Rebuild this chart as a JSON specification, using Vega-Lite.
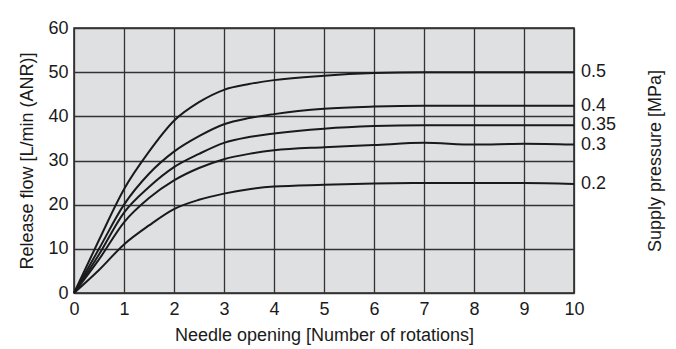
{
  "$schema": "https://vega.github.io/schema/vega-lite/v6.json",
  "width": 500,
  "height": 265,
  "autosize": "none",
  "padding": {"left": 74, "top": 28, "right": 102, "bottom": 56},
  "background": "white",
  "config": {
    "font": "Liberation Sans",
    "view": {"fill": "#dfe0e2", "stroke": "#222222", "strokeWidth": 1.5},
    "axis": {
      "labelFont": "Liberation Sans",
      "titleFont": "Liberation Sans",
      "labelFontSize": 18,
      "titleFontSize": 18,
      "labelColor": "#1a1a1a",
      "titleColor": "#1a1a1a",
      "titleFontWeight": "normal",
      "labelFlush": false,
      "labelOverlap": false,
      "ticks": false,
      "domain": false,
      "gridColor": "#333333",
      "gridWidth": 1.3,
      "gridOpacity": 1
    }
  },
  "data": {
    "values": [
      {"x": 0, "y": 0, "p": "0.5"}, {"x": 0.5, "y": 12, "p": "0.5"}, {"x": 1, "y": 23.5, "p": "0.5"}, {"x": 1.5, "y": 32, "p": "0.5"}, {"x": 2, "y": 39, "p": "0.5"}, {"x": 2.5, "y": 43.2, "p": "0.5"}, {"x": 3, "y": 46, "p": "0.5"}, {"x": 3.5, "y": 47.3, "p": "0.5"}, {"x": 4, "y": 48.2, "p": "0.5"}, {"x": 5, "y": 49.2, "p": "0.5"}, {"x": 6, "y": 49.8, "p": "0.5"}, {"x": 7, "y": 50, "p": "0.5"}, {"x": 8, "y": 50, "p": "0.5"}, {"x": 9, "y": 50, "p": "0.5"}, {"x": 10, "y": 50, "p": "0.5"},
      {"x": 0, "y": 0, "p": "0.4"}, {"x": 0.5, "y": 10, "p": "0.4"}, {"x": 1, "y": 20, "p": "0.4"}, {"x": 1.5, "y": 27, "p": "0.4"}, {"x": 2, "y": 32, "p": "0.4"}, {"x": 2.5, "y": 35.5, "p": "0.4"}, {"x": 3, "y": 38.2, "p": "0.4"}, {"x": 3.5, "y": 39.6, "p": "0.4"}, {"x": 4, "y": 40.5, "p": "0.4"}, {"x": 5, "y": 41.7, "p": "0.4"}, {"x": 6, "y": 42.2, "p": "0.4"}, {"x": 7, "y": 42.4, "p": "0.4"}, {"x": 8, "y": 42.4, "p": "0.4"}, {"x": 9, "y": 42.4, "p": "0.4"}, {"x": 10, "y": 42.4, "p": "0.4"},
      {"x": 0, "y": 0, "p": "0.35"}, {"x": 0.5, "y": 8.7, "p": "0.35"}, {"x": 1, "y": 18.2, "p": "0.35"}, {"x": 1.5, "y": 24, "p": "0.35"}, {"x": 2, "y": 28.5, "p": "0.35"}, {"x": 2.5, "y": 31.5, "p": "0.35"}, {"x": 3, "y": 34, "p": "0.35"}, {"x": 3.5, "y": 35.3, "p": "0.35"}, {"x": 4, "y": 36.1, "p": "0.35"}, {"x": 5, "y": 37.2, "p": "0.35"}, {"x": 6, "y": 37.8, "p": "0.35"}, {"x": 7, "y": 38, "p": "0.35"}, {"x": 8, "y": 38, "p": "0.35"}, {"x": 9, "y": 38, "p": "0.35"}, {"x": 10, "y": 38, "p": "0.35"},
      {"x": 0, "y": 0, "p": "0.3"}, {"x": 0.5, "y": 7.6, "p": "0.3"}, {"x": 1, "y": 16, "p": "0.3"}, {"x": 1.5, "y": 21.5, "p": "0.3"}, {"x": 2, "y": 25.5, "p": "0.3"}, {"x": 2.5, "y": 28.3, "p": "0.3"}, {"x": 3, "y": 30.3, "p": "0.3"}, {"x": 3.5, "y": 31.5, "p": "0.3"}, {"x": 4, "y": 32.3, "p": "0.3"}, {"x": 5, "y": 33, "p": "0.3"}, {"x": 6, "y": 33.5, "p": "0.3"}, {"x": 7, "y": 34, "p": "0.3"}, {"x": 8, "y": 33.6, "p": "0.3"}, {"x": 9, "y": 33.8, "p": "0.3"}, {"x": 10, "y": 33.6, "p": "0.3"},
      {"x": 0, "y": 0, "p": "0.2"}, {"x": 0.5, "y": 5.2, "p": "0.2"}, {"x": 1, "y": 11, "p": "0.2"}, {"x": 1.5, "y": 15.3, "p": "0.2"}, {"x": 2, "y": 19, "p": "0.2"}, {"x": 2.5, "y": 21.1, "p": "0.2"}, {"x": 3, "y": 22.5, "p": "0.2"}, {"x": 3.5, "y": 23.5, "p": "0.2"}, {"x": 4, "y": 24.1, "p": "0.2"}, {"x": 5, "y": 24.5, "p": "0.2"}, {"x": 6, "y": 24.8, "p": "0.2"}, {"x": 7, "y": 24.9, "p": "0.2"}, {"x": 8, "y": 24.9, "p": "0.2"}, {"x": 9, "y": 24.9, "p": "0.2"}, {"x": 10, "y": 24.7, "p": "0.2"}
    ]
  },
  "layer": [
    {
      "mark": {"type": "line", "interpolate": "monotone", "color": "#1a1a1a", "strokeWidth": 2},
      "encoding": {
        "x": {"field": "x", "type": "quantitative", "scale": {"domain": [0, 10], "nice": false}, "axis": {"title": "Needle opening [Number of rotations]", "values": [0,1,2,3,4,5,6,7,8,9,10], "labelPadding": 7, "titlePadding": 8}},
        "y": {"field": "y", "type": "quantitative", "scale": {"domain": [0, 60], "nice": false}, "axis": {"title": "Release flow [L/min (ANR)]", "values": [0,10,20,30,40,50,60], "labelPadding": 6, "titlePadding": 11}},
        "detail": {"field": "p", "type": "nominal"}
      }
    },
    {
      "transform": [{"filter": "datum.x == 10"}],
      "mark": {"type": "text", "align": "left", "baseline": "middle", "dx": 7, "fontSize": 18, "color": "#1a1a1a", "font": "Liberation Sans"},
      "encoding": {
        "x": {"field": "x", "type": "quantitative"},
        "y": {"field": "y", "type": "quantitative", "axis": {"orient": "right", "title": "Supply pressure [MPa]", "labels": false, "grid": false, "titleAngle": 270, "titlePadding": 90}},
        "text": {"field": "p", "type": "nominal"}
      }
    }
  ],
  "resolve": {"axis": {"y": "independent"}}
}
